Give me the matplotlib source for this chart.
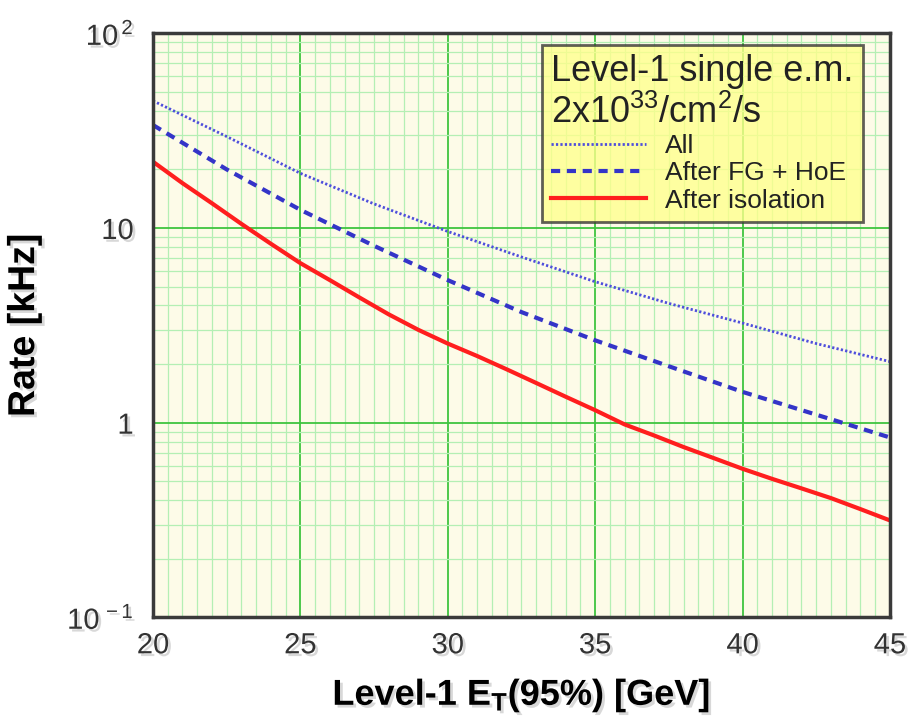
import matplotlib
matplotlib.use("Agg")
import matplotlib.pyplot as plt
import matplotlib.patheffects as pe
from matplotlib.ticker import FixedLocator, MultipleLocator, LogLocator, NullFormatter

plt.rcParams['font.family'] = ['Liberation Sans', 'DejaVu Sans']
plt.rcParams['mathtext.fontset'] = 'custom'
plt.rcParams['mathtext.rm'] = 'Liberation Sans'
plt.rcParams['mathtext.bf'] = 'Liberation Sans:bold'
plt.rcParams['mathtext.it'] = 'Liberation Sans:italic'

# rates (kHz)
et_coarse = [20, 22.5, 25, 27.5, 30, 32.5, 35, 37.5, 40, 42.5, 45]
rate_all = [45.0, 29.5, 19.1, 13.3, 9.6, 7.1, 5.3, 4.1, 3.25, 2.55, 2.06]
rate_fg_hoe = [33.8, 20.0, 12.4, 8.1, 5.4, 3.7, 2.65, 1.95, 1.44, 1.1, 0.84]

et_fine = [20, 21, 22, 23, 24, 25, 26, 27, 28, 29, 30, 31, 32, 33, 34, 35,
           36, 37, 38, 39, 40, 41, 42, 43, 44, 45]
rate_iso = [21.9, 17.0, 13.4, 10.5, 8.3, 6.6, 5.4, 4.4, 3.6, 3.0, 2.55, 2.2,
            1.88, 1.6, 1.36, 1.16, 0.98, 0.86, 0.75, 0.66, 0.58, 0.515, 0.46,
            0.41, 0.36, 0.315]

x_ticks = [20, 25, 30, 35, 40, 45]
y_ticks = [0.1, 1, 10, 100]
y_ticklabels = ['$10^{\\,-1}$', '1', '10', '$10^{\\,2}$']

shadow = [pe.withSimplePatchShadow(offset=(2, -2), shadow_rgbFace='gray', alpha=0.3)]

fig = plt.figure(figsize=(9.09, 7.24), dpi=100)
ax = fig.add_axes([0.1683, 0.1472, 0.8107, 0.8068])
ax.set_facecolor('#fdfbe8')

ax.plot(et_coarse, rate_all, color='#4e4edc', lw=2, ls=(0, (0.8, 0.8)), label='All')
ax.plot(et_coarse, rate_fg_hoe, color='#3434c8', lw=3, ls=(0, (2.2, 1.6)), label='After FG + HoE')
ax.plot(et_fine, rate_iso, color='#ff1e1e', lw=3, label='After isolation')

ax.set_yscale('log')
ax.set_xlim(20, 45)
ax.set_ylim(0.1, 100)

ax.xaxis.set_major_locator(FixedLocator(x_ticks))
ax.xaxis.set_minor_locator(MultipleLocator(0.5))
ax.yaxis.set_major_locator(FixedLocator(y_ticks))
ax.yaxis.set_minor_locator(LogLocator(base=10, subs=range(2, 10)))
ax.yaxis.set_minor_formatter(NullFormatter())
ax.set_yticklabels(y_ticklabels)

ax.grid(which='major', color='#3fc43f', lw=1.3)
ax.grid(which='minor', color='#b4efb4', lw=0.9)
ax.set_axisbelow(True)
ax.tick_params(which='both', length=0)
ax.tick_params(axis='x', labelsize=21, pad=10)
ax.tick_params(axis='y', labelsize=21, pad=14)

for lab in ax.get_xticklabels() + ax.get_yticklabels():
    lab.set_color('#333333')
    lab.set_path_effects(shadow)

for sp in ax.spines.values():
    sp.set_color('#3a3a3a')
    sp.set_linewidth(2.5)

ax.set_ylabel('Rate [kHz]', fontsize=27, fontweight='bold', labelpad=18,
              path_effects=shadow)
ax.set_xlabel('Level-1 $\\mathbf{E}_\\mathbf{T}$(95%) [GeV]', fontsize=26,
              fontweight='bold', labelpad=12, path_effects=shadow)

leg = ax.legend(title='Level-1 single e.m.\n2x10$^{33}$/cm$^2$/s',
                loc='upper right', bbox_to_anchor=(0.963, 0.98),
                borderaxespad=0, fontsize=19, title_fontsize=26,
                alignment='left', handlelength=3.6, handletextpad=0.7,
                labelspacing=0.12, borderpad=0.35,
                fancybox=False, framealpha=0.78, edgecolor='#333333',
                facecolor='#ffff8c')
leg.get_frame().set_linewidth(2)
leg.get_title().set_color('#222222')
for t in leg.get_texts():
    t.set_color('#222222')

fig.savefig('out.png', dpi=100)
